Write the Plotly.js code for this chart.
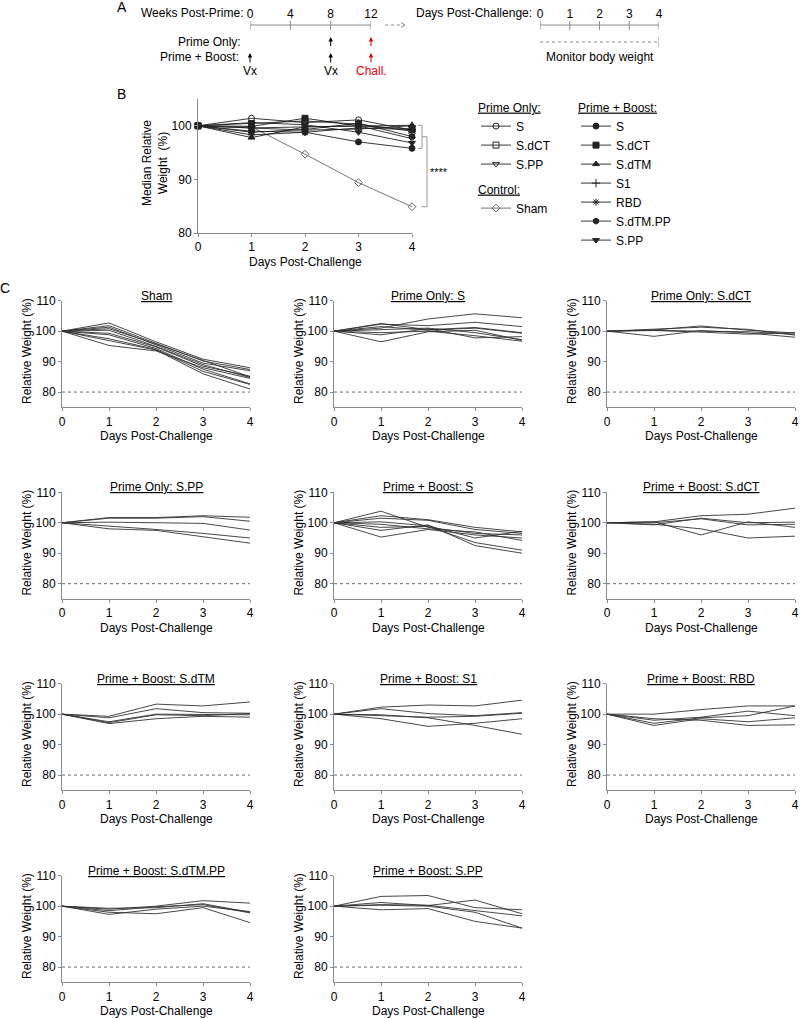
<!DOCTYPE html>
<html>
<head>
<meta charset="utf-8">
<script src="https://cdn.plot.ly/plotly-3.0.1.min.js"></script>
<style>body{margin:0;background:#fff}</style>
</head>
<body>
<div id="fig" style="width:800px;height:1019px"></div>
<script>
// x values shared by every chart
const days = [0, 1, 2, 3, 4];
const weekTicks = [0, 4, 8, 12];
const dayTicks = [0, 1, 2, 3, 4];

// Panel B: median relative weight (%)
const medPoS = [100, 101.4, 100.6, 101.1, 99.2];
const medPoSdCT = [100, 100.4, 100.9, 100.3, 99.0];
const medPoSPP = [100, 99.6, 99.8, 100.0, 97.6];
const medSham = [100, 99.8, 94.7, 89.4, 84.9];
const medPbS = [100, 99.0, 98.8, 97.0, 95.8];
const medPbSdCT = [100, 99.9, 101.4, 100.0, 99.4];
const medPbSdTM = [100, 97.8, 99.8, 100.0, 100.1];
const medPbS1 = [100, 99.6, 99.2, 99.4, 100.0];
const medPbRBD = [100, 98.3, 98.8, 99.6, 99.3];
const medPbSdTMPP = [100, 98.8, 99.3, 100.5, 98.0];
const medPbSPP = [100, 100.6, 100.2, 98.8, 96.8];

// Panel C: individual animals
const indSham = [
  [100, 102.7, 96.5, 90.8, 88.0],
  [100, 101.8, 96.0, 90.2, 87.4],
  [100, 101.3, 95.5, 89.5, 87.0],
  [100, 100.8, 95.8, 90.5, 85.0],
  [100, 100.3, 95.0, 89.0, 84.8],
  [100, 99.3, 94.8, 88.5, 85.2],
  [100, 98.8, 94.3, 87.5, 82.7],
  [100, 97.5, 94.0, 86.8, 82.5],
  [100, 97.0, 93.8, 86.0, 81.0],
  [100, 95.3, 93.5, 88.0, 84.5]
];
const indPoS = [
  [100, 101.0, 104.0, 105.7, 104.4],
  [100, 102.3, 101.8, 102.9, 101.5],
  [100, 102.5, 100.5, 101.2, 99.5],
  [100, 101.5, 100.3, 101.0, 99.3],
  [100, 100.5, 101.0, 99.5, 97.2],
  [100, 99.5, 100.0, 98.5, 96.7],
  [100, 98.8, 100.8, 97.8, 98.2],
  [100, 96.5, 99.8, 100.3, 97.0]
];
const indPoSdCT = [
  [100, 100.4, 101.7, 100.3, 99.4],
  [100, 98.3, 100.2, 99.4, 98.0],
  [100, 100.2, 99.7, 99.0, 99.5],
  [100, 100.6, 101.3, 100.6, 98.7],
  [100, 100.3, 100.0, 99.8, 99.0]
];
const indPoSPP = [
  [100, 101.7, 101.7, 102.3, 101.8],
  [100, 101.5, 101.5, 102.0, 100.5],
  [100, 100.2, 100.0, 99.8, 97.6],
  [100, 99.0, 97.8, 96.5, 95.0],
  [100, 98.0, 97.5, 95.5, 93.3]
];
const indPbS = [
  [100, 103.8, 98.5, 96.5, 96.0],
  [100, 102.3, 101.0, 98.5, 97.0],
  [100, 101.5, 100.8, 97.8, 96.5],
  [100, 100.3, 99.0, 95.0, 97.2],
  [100, 99.5, 98.0, 97.0, 94.2],
  [100, 98.5, 98.8, 93.5, 91.0],
  [100, 97.5, 99.3, 92.5, 90.0],
  [100, 95.3, 97.8, 96.0, 95.0]
];
const indPbSdCT = [
  [100, 100.3, 102.3, 102.8, 104.8],
  [100, 99.3, 101.5, 100.0, 100.2],
  [100, 100.0, 101.3, 99.3, 99.5],
  [100, 100.3, 96.0, 100.3, 98.5],
  [100, 99.5, 98.0, 95.0, 95.6]
];
const indPbSdTM = [
  [100, 99.3, 103.3, 102.7, 104.0],
  [100, 98.8, 101.8, 100.5, 100.3],
  [100, 97.5, 100.0, 100.0, 99.8],
  [100, 96.9, 98.5, 99.3, 99.0],
  [100, 97.2, 99.8, 99.5, 100.2]
];
const indPbS1 = [
  [100, 102.3, 103.0, 102.7, 104.6],
  [100, 101.8, 100.2, 99.5, 100.5],
  [100, 99.5, 99.0, 99.3, 100.3],
  [100, 98.5, 96.0, 97.0, 98.5],
  [100, 99.8, 98.8, 96.3, 93.4]
];
const indPbRBD = [
  [100, 100.0, 101.5, 102.7, 102.7],
  [100, 98.0, 99.0, 101.0, 99.5],
  [100, 97.0, 98.8, 99.5, 102.7],
  [100, 96.3, 98.5, 97.5, 98.8],
  [100, 98.5, 98.0, 96.3, 96.5]
];
const indPbSdTMPP = [
  [100, 99.0, 100.0, 101.8, 101.0],
  [100, 99.3, 99.5, 100.8, 98.0],
  [100, 98.5, 99.8, 100.5, 97.8],
  [100, 97.3, 99.0, 100.0, 98.2],
  [100, 98.0, 97.5, 99.5, 94.6]
];
const indPbSPP = [
  [100, 103.2, 103.5, 99.5, 98.8],
  [100, 101.2, 100.2, 102.0, 97.5],
  [100, 100.5, 100.3, 98.5, 96.8],
  [100, 98.8, 99.2, 95.0, 92.8],
  [100, 100.3, 100.0, 98.0, 92.8]
];

const panelTitles = ['Sham', 'Prime Only: S', 'Prime Only: S.dCT', 'Prime Only: S.PP',
  'Prime + Boost: S', 'Prime + Boost: S.dCT', 'Prime + Boost: S.dTM', 'Prime + Boost: S1',
  'Prime + Boost: RBD', 'Prime + Boost: S.dTM.PP', 'Prime + Boost: S.PP'];
const panelData = [indSham, indPoS, indPoSdCT, indPoSPP, indPbS, indPbSdCT,
  indPbSdTM, indPbS1, indPbRBD, indPbSdTMPP, indPbSPP];
const cutoff = 80;

// helpers: page pixels -> paper coordinates
const W = 800, H = 1019;
const px = x => x / W;
const py = y => 1 - y / H;

const FONT = 'Liberation Sans, Arial, sans-serif';
const GRAY = '#8a8a8a';

const axBase = {
  showline: true, linecolor: GRAY, linewidth: 1,
  ticks: 'outside', ticklen: 3, tickcolor: GRAY, tickwidth: 1,
  showgrid: false, zeroline: false, fixedrange: true,
  tickfont: {size: 12, color: '#000'}
};

let traces = [];
let shapes = [];
let annotations = [];
let layout = {
  width: W, height: H,
  margin: {l: 0, r: 0, t: 0, b: 0},
  paper_bgcolor: '#fff', plot_bgcolor: 'rgba(0,0,0,0)',
  font: {family: FONT, size: 12, color: '#000'},
  showlegend: true,
  hovermode: false
};

function texto(x, y, text, extra) {
  annotations.push(Object.assign({
    xref: 'paper', yref: 'paper', x: px(x), y: py(y), text: text,
    showarrow: false, xanchor: 'center', yanchor: 'middle', font: {size: 12}
  }, extra || {}));
}

// ---------- Panel A: timeline ----------
texto(122, 7, 'A', {font: {size: 14}});
layout.xaxis13 = {domain: [px(250), px(371)], anchor: 'y13', side: 'top', range: [0, 12],
  tickvals: weekTicks, ticks: '', showline: false, showgrid: false, zeroline: false,
  fixedrange: true, tickfont: {size: 12}};
layout.yaxis13 = {domain: [py(22), py(21)], anchor: 'x13', visible: false, range: [0, 1]};
layout.xaxis14 = {domain: [px(540), px(659)], anchor: 'y14', side: 'top', range: [0, 4],
  tickvals: dayTicks, ticks: '', showline: false, showgrid: false, zeroline: false,
  fixedrange: true, tickfont: {size: 12}};
layout.yaxis14 = {domain: [py(22), py(21)], anchor: 'x14', visible: false, range: [0, 1]};

shapes.push({type: 'line', xref: 'x13', yref: 'paper', x0: 0, x1: 12, y0: py(25), y1: py(25), line: {color: GRAY, width: 1}});
weekTicks.forEach(w => shapes.push({type: 'line', xref: 'x13', yref: 'paper', x0: w, x1: w, y0: py(21), y1: py(30), line: {color: GRAY, width: 1}}));
shapes.push({type: 'line', xref: 'x14', yref: 'paper', x0: 0, x1: 4, y0: py(25), y1: py(25), line: {color: GRAY, width: 1}});
dayTicks.forEach(d => shapes.push({type: 'line', xref: 'x14', yref: 'paper', x0: d, x1: d, y0: py(21), y1: py(30), line: {color: GRAY, width: 1}}));
// dotted link between the two timelines
shapes.push({type: 'line', xref: 'paper', yref: 'paper', x0: px(385), x1: px(404), y0: py(25), y1: py(25), line: {color: GRAY, width: 1, dash: 'dot'}});
shapes.push({type: 'path', xref: 'paper', yref: 'paper',
  path: `M ${px(401)} ${py(22.5)} L ${px(405)} ${py(25)} L ${px(401)} ${py(27.5)}`, line: {color: GRAY, width: 1}});
// monitoring window
shapes.push({type: 'line', xref: 'x14', yref: 'paper', x0: 0, x1: 4, y0: py(42), y1: py(42), line: {color: GRAY, width: 1, dash: 'dot'}});
shapes.push({type: 'line', xref: 'x14', yref: 'paper', x0: 4, x1: 4, y0: py(37), y1: py(47), line: {color: GRAY, width: 1}});

texto(245, 13, 'Weeks Post-Prime:', {xanchor: 'right'});
texto(534, 13, 'Days Post-Challenge:', {xanchor: 'right'});
texto(243, 42, 'Prime Only:', {xanchor: 'right'});
texto(241, 57, 'Prime + Boost:', {xanchor: 'right'});
texto(600, 57, 'Monitor body weight');

function flecha(week, yTip, color, label) {
  annotations.push({
    xref: 'x13', yref: 'paper', x: week, y: py(yTip), ax: 0, ay: label ? 18 : 11,
    text: label || ' ', showarrow: true, arrowhead: 2, arrowsize: 0.9, arrowwidth: 1,
    arrowcolor: color, font: {size: label ? 12 : 1, color: color}
  });
}
flecha(8, 37, '#000');
flecha(12, 37, '#e8000b');
flecha(0, 53, '#000', 'Vx');
flecha(8, 53, '#000', 'Vx');
flecha(12, 53, '#e8000b', 'Chall.');

// ---------- Panel B: medians ----------
texto(121, 94, 'B', {font: {size: 14}});
layout.xaxis = Object.assign({}, axBase, {domain: [px(198), px(412)], anchor: 'y', range: [0, 4], tickvals: days});
layout.yaxis = Object.assign({}, axBase, {domain: [py(233), py(99)], anchor: 'x', range: [80, 105], tickvals: [80, 90, 100]});
texto(305, 262, 'Days Post-Challenge');
texto(155, 163, 'Median Relative<br>Weight  (%)', {textangle: -90});

const bSeries = [
  {name: 'S', y: medPoS, symbol: 'circle-open', legend: 'legend'},
  {name: 'S.dCT', y: medPoSdCT, symbol: 'square-open', legend: 'legend'},
  {name: 'S.PP', y: medPoSPP, symbol: 'triangle-down-open', legend: 'legend'},
  {name: 'Sham', y: medSham, symbol: 'diamond-open', legend: 'legend2', color: '#666'},
  {name: 'S', y: medPbS, symbol: 'circle', legend: 'legend3'},
  {name: 'S.dCT', y: medPbSdCT, symbol: 'square', legend: 'legend3'},
  {name: 'S.dTM', y: medPbSdTM, symbol: 'triangle-up', legend: 'legend3'},
  {name: 'S1', y: medPbS1, symbol: 'cross-thin-open', legend: 'legend3'},
  {name: 'RBD', y: medPbRBD, symbol: 'asterisk-open', legend: 'legend3'},
  {name: 'S.dTM.PP', y: medPbSdTMPP, symbol: 'hexagon', legend: 'legend3'},
  {name: 'S.PP', y: medPbSPP, symbol: 'triangle-down', legend: 'legend3'}
];
bSeries.forEach(s => {
  const col = s.color || '#222';
  traces.push({
    x: days, y: s.y, name: s.name, legend: s.legend, xaxis: 'x', yaxis: 'y',
    mode: 'lines+markers', cliponaxis: false, hoverinfo: 'skip',
    line: {color: col, width: 0.9},
    marker: {symbol: s.symbol, size: 6, color: col, line: {color: col, width: 1}}
  });
});

const legBase = {xanchor: 'left', yanchor: 'top', bgcolor: 'rgba(0,0,0,0)',
  font: {size: 12}, tracegroupgap: 0, itemclick: false, itemdoubleclick: false};
layout.legend = Object.assign({}, legBase, {x: px(476), y: py(96), title: {text: '<u>Prime Only:</u>', font: {size: 12}}});
layout.legend2 = Object.assign({}, legBase, {x: px(476), y: py(178), title: {text: '<u>Control:</u>', font: {size: 12}}});
layout.legend3 = Object.assign({}, legBase, {x: px(576), y: py(96), title: {text: '<u>Prime + Boost:</u>', font: {size: 12}}});

// significance brackets, from the day-4 medians
const vacc4 = [medPoS, medPoSdCT, medPoSPP, medPbS, medPbSdCT, medPbSdTM, medPbS1,
  medPbRBD, medPbSdTMPP, medPbSPP].map(a => a[4]);
const bTop = Math.max(...vacc4), bBot = Math.min(...vacc4), bMid = (bTop + bBot) / 2;
const sham4 = medSham[4];
const br = {color: '#999', width: 1};
shapes.push({type: 'path', xref: 'paper', yref: 'y',
  path: `M ${px(418)} ${bTop} L ${px(422)} ${bTop} L ${px(422)} ${bBot} L ${px(418)} ${bBot}`, line: br});
shapes.push({type: 'path', xref: 'paper', yref: 'y',
  path: `M ${px(422)} ${bMid} L ${px(427)} ${bMid} L ${px(427)} ${sham4} L ${px(421)} ${sham4}`, line: br});
annotations.push({xref: 'paper', yref: 'y', x: px(439), y: (bMid + sham4) / 2, text: '****',
  showarrow: false, font: {size: 11}});

// ---------- Panel C: individual animals ----------
texto(5, 288, 'C', {font: {size: 14}});
const colX = [[62, 250], [334, 522], [607, 795]];
const rowTop = [300.7, 492.3, 683.7, 875.7];
const plotH = 106.6;

panelData.forEach((lines, i) => {
  const n = i + 2, r = Math.floor(i / 3), c = i % 3;
  const x0 = colX[c][0], x1 = colX[c][1];
  const top = rowTop[r], bot = top + plotH;
  layout['xaxis' + n] = Object.assign({}, axBase, {domain: [px(x0), px(x1)], anchor: 'y' + n, range: [0, 4], tickvals: days});
  layout['yaxis' + n] = Object.assign({}, axBase, {domain: [py(bot), py(top)], anchor: 'x' + n, range: [75, 110], tickvals: [80, 90, 100, 110]});
  lines.forEach(v => traces.push({
    x: days, y: v, xaxis: 'x' + n, yaxis: 'y' + n, mode: 'lines', showlegend: false,
    hoverinfo: 'skip', line: {color: '#333', width: 0.9}
  }));
  shapes.push({type: 'line', xref: 'x' + n, yref: 'y' + n, x0: 0, x1: 4, y0: cutoff, y1: cutoff,
    line: {color: '#444', width: 0.8, dash: 'dot'}});
  texto((x0 + x1) / 2, top - 5, '<u>' + panelTitles[i] + '</u>');
  texto((x0 + x1) / 2, bot + 29, 'Days Post-Challenge');
  texto(x0 - 35, (top + bot) / 2 - 3, 'Relative Weight (%)', {textangle: -90});
});

layout.shapes = shapes;
layout.annotations = annotations;

Plotly.newPlot('fig', traces, layout, {staticPlot: true, displayModeBar: false});
</script>
</body>
</html>
